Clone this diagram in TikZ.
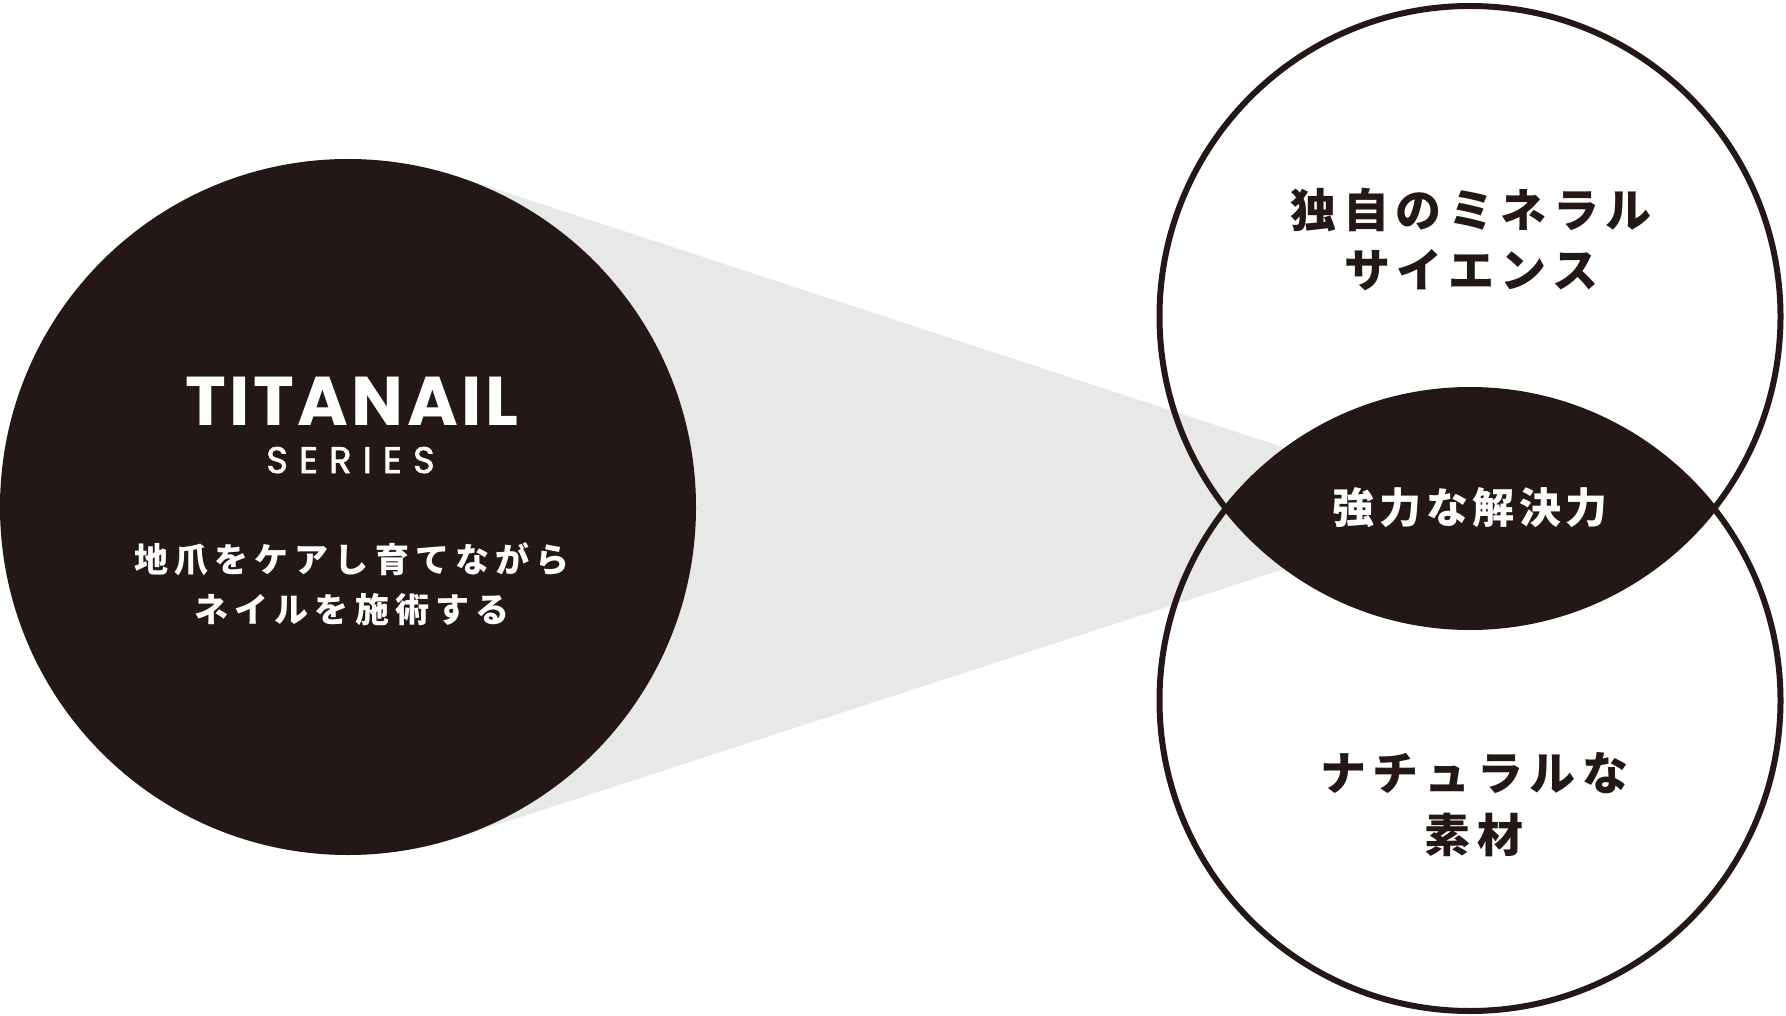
\documentclass[tikz,border=0pt]{standalone}
\usepackage{fontspec}
\usetikzlibrary{calc}
\newfontfamily\jp{Noto Sans CJK JP}
\newfontfamily\pop{Poppins}
\newfontfamily\popmid{Poppins}[FakeBold=1.6]
\definecolor{dark}{RGB}{35,24,21}
\definecolor{cone}{RGB}{232,232,232}
\tikzset{
  ring/.style={circle, draw=dark, line width=6pt, minimum size=621pt, inner sep=0pt},
  jpbig/.style={anchor=base, inner sep=0pt, font=\jp\bfseries\fontsize{46}{52}\selectfont\addfontfeature{LetterSpace=14}, text=dark, xshift=3.2pt},
  jplens/.style={anchor=base, inner sep=0pt, font=\jp\bfseries\fontsize{42}{46}\selectfont\addfontfeature{LetterSpace=11}, text=white, xshift=2.3pt},
  jpsmall/.style={anchor=base, inner sep=0pt, font=\jp\bfseries\fontsize{34}{38}\selectfont\addfontfeature{LetterSpace=18}, text=white, xshift=3pt},
}
\begin{document}
\begin{tikzpicture}[x=1pt,y=-1pt]
\useasboundingbox (0,0) rectangle (1786,1016);
% geometry
\coordinate (P) at (1470,508.5);
\node[circle, minimum size=696pt, inner sep=0pt] (L) at (348,507) {};
% gray cone
\fill[cone] (P) -- (tangent cs:node=L,point={(P)},solution=1) -- (L.center) -- (tangent cs:node=L,point={(P)},solution=2) -- cycle;
% left circle
\fill[dark] (L.center) circle (348pt);
% lens
\begin{scope}
  \clip (1470,316.5) circle (310.5pt);
  \fill[dark] (1470,700.5) circle (310.5pt);
\end{scope}
% rings
\node[ring] (A) at (1470,316.5) {};
\node[ring] (B) at (1470,700.5) {};
% texts left
\node[anchor=base, inner sep=0pt, text=white, font=\pop\bfseries\fontsize{69}{76}\selectfont\addfontfeature{LetterSpace=5}, xshift=1.7pt] (t1) at (350,425) {TITANAIL};
\node[anchor=base, inner sep=0pt, text=white, font=\popmid\fontsize{37}{42}\selectfont\addfontfeature{LetterSpace=30}, xshift=5.5pt] (t2) at (345,473) {SERIES};
\node[jpsmall] (t3) at (349,572) {地爪をケアし育てながら};
\node[jpsmall] (t4) at (349,622) {ネイルを施術する};
% right texts
\node[jpbig] (a1) at (1468,228) {独自のミネラル};
\node[jpbig] (a2) at (1468,288) {サイエンス};
\node[jplens] (c1) at (1468,523) {強力な解決力};
\node[jpbig] (b1) at (1471,790) {ナチュラルな};
\node[jpbig] (b2) at (1471,852) {素材};
\end{tikzpicture}
\end{document}
